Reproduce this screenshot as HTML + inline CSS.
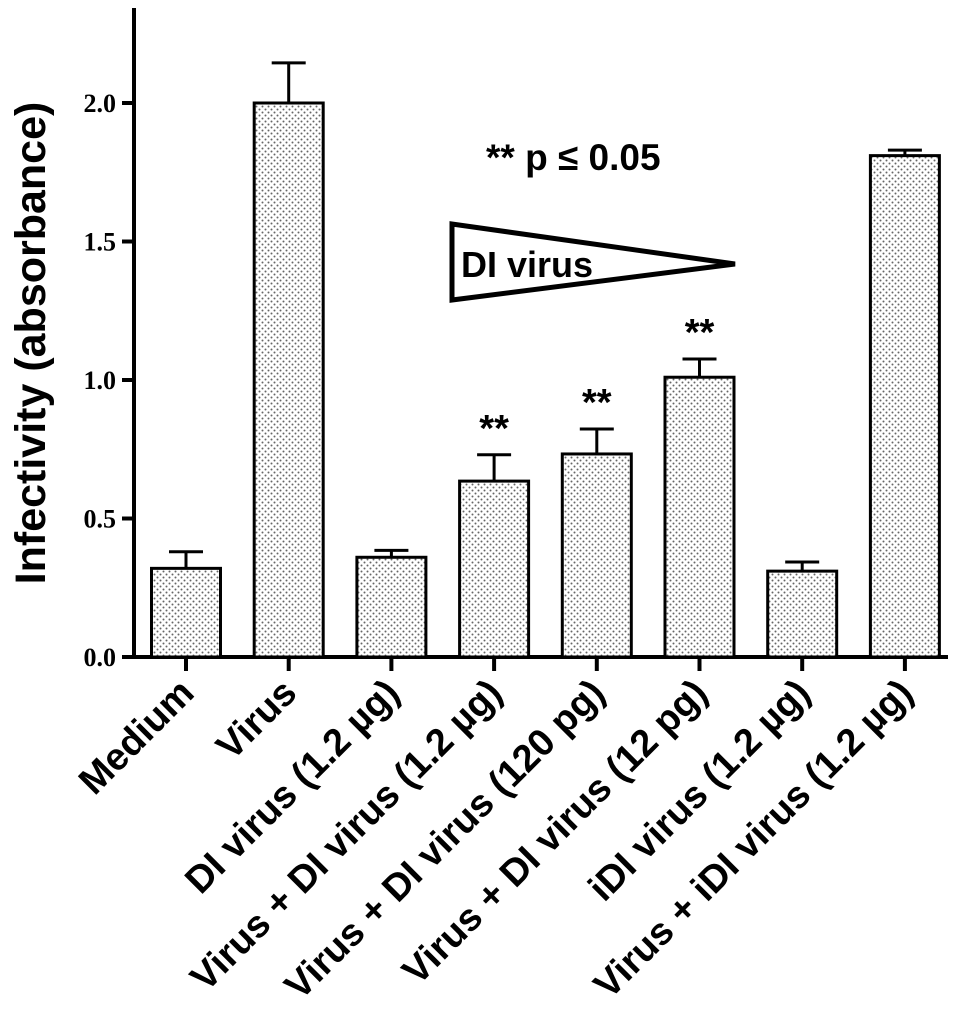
<!DOCTYPE html>
<html><head><meta charset="utf-8"><style>
body{margin:0;background:#fff}
svg{display:block}
.tk{font-family:"Liberation Serif",serif;font-weight:bold;font-size:26px}
.xl{font-family:"Liberation Sans","DejaVu Sans",sans-serif;font-weight:bold;font-size:38px}
</style></head><body>
<svg id="chart" width="965" height="1024" viewBox="0 0 965 1024">
<defs>
<pattern id="dots" width="6" height="6" patternUnits="userSpaceOnUse">
<rect width="6" height="6" fill="#fff"/>
<circle cx="1.5" cy="1.5" r="1" fill="#666"/>
<circle cx="4.5" cy="4.5" r="1" fill="#666"/>
</pattern>
</defs>
<g id="axes"></g>
<g id="bars"></g>
<text x="486" y="170" font-family="Liberation Sans,sans-serif" font-weight="bold" font-size="37">** p ≤ 0.05</text>
<polygon points="452,224 452,300 735,264" fill="#fff" stroke="#000" stroke-width="5"/>
<text x="461" y="277" font-family="Liberation Sans,sans-serif" font-weight="bold" font-size="36">DI virus</text>
<text transform="translate(45,343) rotate(-90)" text-anchor="middle" font-family="Liberation Sans,sans-serif" font-weight="bold" font-size="43">Infectivity (absorbance)</text>
</svg>
<script>
const categories=["Medium","Virus","DI virus (1.2 µg)","Virus + DI virus (1.2 µg)","Virus + DI virus (120 pg)","Virus + DI virus (12 pg)","iDI virus (1.2 µg)","Virus + iDI virus (1.2 µg)"];
const means=[0.32,2.0,0.36,0.635,0.733,1.01,0.31,1.81];
const errs=[0.06,0.145,0.025,0.095,0.09,0.066,0.033,0.02];
const stars=["","","","**","**","**","",""];
const ticks=[0,0.5,1.0,1.5,2.0];
const tickLabels=["0.0","0.5","1.0","1.5","2.0"];
const NS="http://www.w3.org/2000/svg";
const x0=134,y0=657,perUnit=277,step=102.7,firstC=186,bw=69;
const yS=v=>y0-v*perUnit, xC=i=>firstC+i*step;
function mk(t,a,p){const e=document.createElementNS(NS,t);for(const k in a)e.setAttribute(k,a[k]);p.appendChild(e);return e;}
const ax=document.getElementById('axes'),bg=document.getElementById('bars');
const ya=mk('line',{x1:x0,y1:8,x2:x0,y2:y0+2,stroke:'#000','stroke-width':4},ax);


const xa=mk('line',{x1:x0-12,y1:y0,x2:948,y2:y0,stroke:'#000','stroke-width':4},ax);


ticks.forEach((v,i)=>{
  const l=mk('line',{x1:x0-12,y1:yS(v),x2:x0,y2:yS(v),stroke:'#000','stroke-width':4},ax);
  
  
  const t=mk('text',{x:x0-18,y:yS(v)+9,'text-anchor':'end',class:'tk'},ax);
  t.textContent=tickLabels[i];
  
  
});
categories.forEach((c,i)=>{
  const cx=xC(i),top=yS(means[i]),et=yS(means[i]+errs[i]);
  const el=mk('line',{x1:cx,y1:top,x2:cx,y2:et,stroke:'#000','stroke-width':3},bg);
  
  
  const cap=mk('line',{x1:cx-17,y1:et,x2:cx+17,y2:et,stroke:'#000','stroke-width':3},bg);
  
  
  const r=mk('rect',{x:cx-bw/2,y:top,width:bw,height:y0-top,fill:'url(#dots)',stroke:'#000','stroke-width':3},bg);
  
  
  const tk=mk('line',{x1:cx,y1:y0,x2:cx,y2:y0+14,stroke:'#000','stroke-width':4},ax);
  
  
  const t=mk('text',{x:0,y:0,'text-anchor':'end',class:'xl',transform:`translate(${cx+10},${y0+38}) rotate(-45)`},ax);
  t.textContent=c;
  
  
  if(stars[i]){
    const s=mk('text',{x:cx,y:et-14,'text-anchor':'middle','font-family':'Liberation Sans,sans-serif','font-weight':'bold','font-size':38},bg);
    s.textContent=stars[i];
    
    
  }
});
</script>
</body></html>
